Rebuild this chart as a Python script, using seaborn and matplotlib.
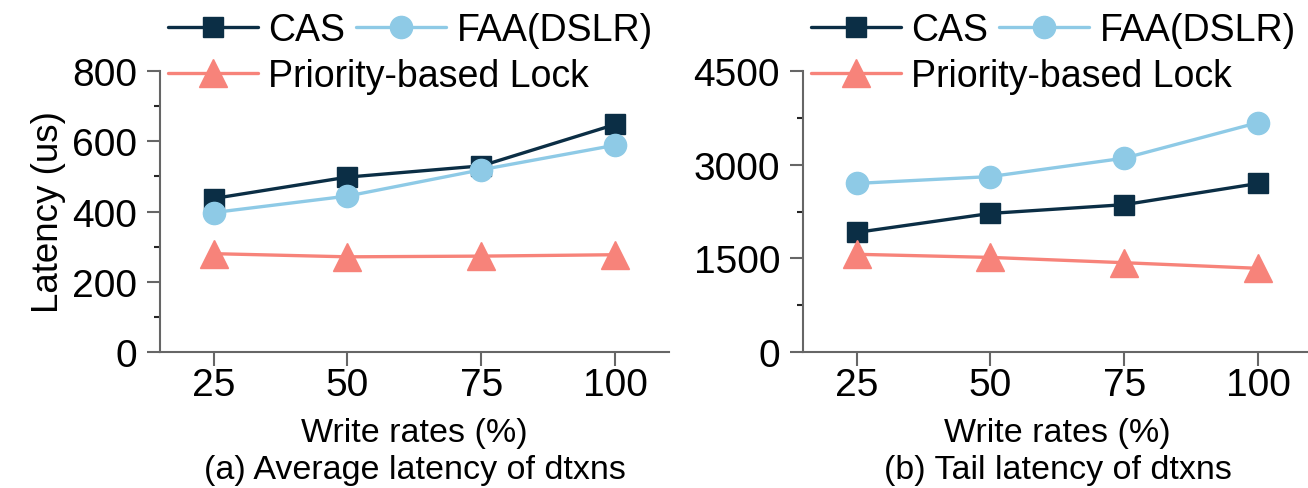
import pandas as pd
import matplotlib
matplotlib.use("Agg")
import matplotlib.pyplot as plt
from matplotlib.ticker import MultipleLocator
import seaborn as sns

write_rates = [25, 50, 75, 100]
methods = ["CAS", "FAA(DSLR)", "Priority-based Lock"]

# average latency (us)
avg_cas = [437, 498, 530, 648]
avg_faa = [397, 444, 519, 589]
avg_prio = [280, 271, 273, 277]

# tail latency (us)
tail_cas = [1915, 2220, 2360, 2700]
tail_faa = [2700, 2810, 3105, 3675]
tail_prio = [1565, 1515, 1430, 1340]

colors = {"CAS": "#0b2e45", "FAA(DSLR)": "#8ecae6", "Priority-based Lock": "#f7837a"}
markers = {"CAS": "s", "FAA(DSLR)": "o", "Priority-based Lock": "^"}
msizes = {"CAS": 14, "FAA(DSLR)": 16, "Priority-based Lock": 19.5}


def make_frame(cas, faa, prio):
    rows = []
    for name, vals in zip(methods, [cas, faa, prio]):
        for x, v in zip(write_rates, vals):
            rows.append({"rate": x, "method": name, "latency": v})
    return pd.DataFrame(rows)


sns.set_style("ticks")
plt.rcParams["font.family"] = ["Liberation Sans", "DejaVu Sans"]
plt.rcParams["text.color"] = "black"
plt.rcParams["axes.labelcolor"] = "black"
plt.rcParams["axes.edgecolor"] = "#666666"
plt.rcParams["axes.linewidth"] = 1.5

fig = plt.figure(figsize=(13.08, 4.89), dpi=100)
ax1 = fig.add_axes([0.1223, 0.2781, 0.3891, 0.5746])
ax2 = fig.add_axes([0.6139, 0.2781, 0.3891, 0.5746])

panels = [
    (ax1, make_frame(avg_cas, avg_faa, avg_prio), 800, 200, 100, "(a) Average latency of dtxns"),
    (ax2, make_frame(tail_cas, tail_faa, tail_prio), 4500, 1500, 750, "(b) Tail latency of dtxns"),
]

for ax, df, ymax, major, minor, caption in panels:
    for name in methods:
        sub = df[df["method"] == name]
        sns.lineplot(data=sub, x="rate", y="latency", ax=ax, color=colors[name],
                     marker=markers[name], markersize=msizes[name],
                     markeredgecolor=colors[name], markeredgewidth=1,
                     linewidth=2.4, label=name, clip_on=False)
    ax.set_xlim(15, 110)
    ax.set_ylim(0, ymax)
    ax.set_xticks(write_rates)
    ax.yaxis.set_major_locator(MultipleLocator(major))
    ax.yaxis.set_minor_locator(MultipleLocator(minor))
    ax.tick_params(axis="both", labelsize=28, colors="#666666", labelcolor="black")
    ax.tick_params(axis="y", which="major", length=9.5, width=1.5, pad=7)
    ax.tick_params(axis="y", which="minor", length=4.5, width=1.5)
    ax.tick_params(axis="x", which="major", length=10, width=1.5, pad=1)
    ax.set_xlabel("Write rates (%)", fontsize=24.5, labelpad=10)
    ax.set_ylabel("")
    sns.despine(ax=ax)

    handles, labels = ax.get_legend_handles_labels()
    for h in handles:
        h.set_markersize(msizes[h.get_label()])
    leg1 = ax.legend(handles[:2], labels[:2], ncol=2, frameon=False, fontsize=27,
                     loc="center left", bbox_to_anchor=(0.015, 1.146), borderpad=0,
                     borderaxespad=0, handlelength=2.4, handletextpad=0.28,
                     columnspacing=0.3)
    ax.add_artist(leg1)
    ax.legend(handles[2:], labels[2:], frameon=False, fontsize=27,
              loc="center left", bbox_to_anchor=(0.015, 0.982), borderpad=0,
              borderaxespad=0, handlelength=2.4, handletextpad=0.28)

    pos = ax.get_position()
    fig.text(pos.x0 + pos.width / 2, 0.037, caption, ha="center", va="center", fontsize=24.5)

ax1.set_ylabel("Latency (us)", fontsize=26.5)

fig.savefig("out.png", dpi=100)
